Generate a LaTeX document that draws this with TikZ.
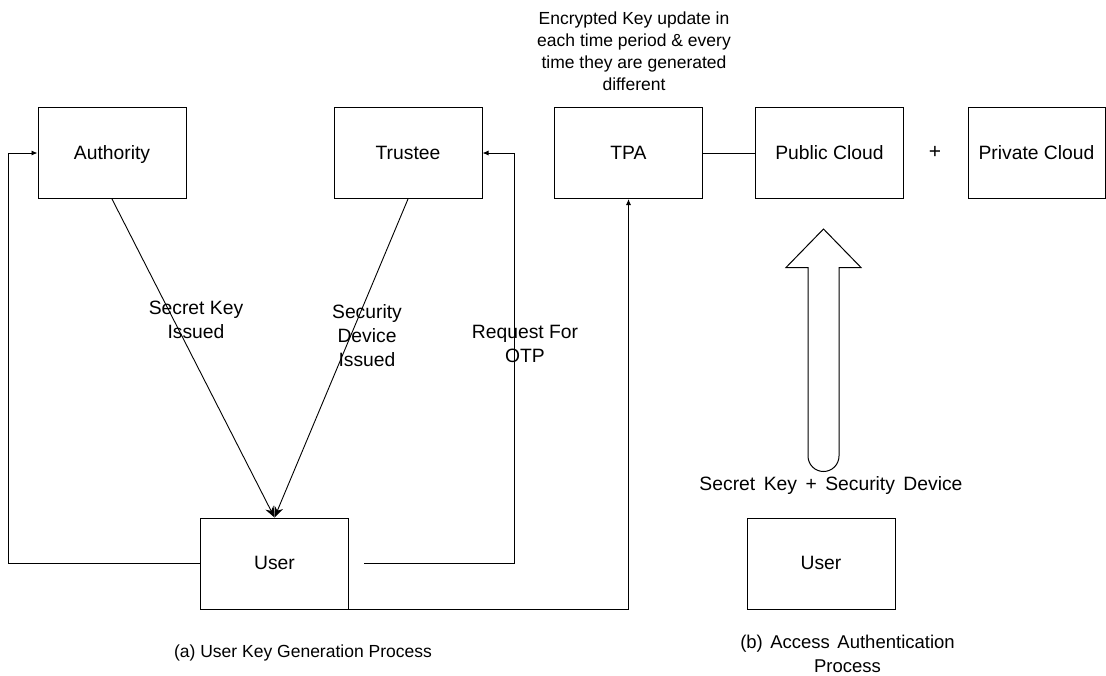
\documentclass[tikz,border=0pt]{standalone}
\usepackage{fontspec}
\setmainfont{Liberation Sans}
\usetikzlibrary{arrows.meta}
\begin{document}
\begin{tikzpicture}[x=1pt,y=-1pt,
  box/.style={draw, line width=1pt, minimum width=148pt, minimum height=91pt, inner sep=0pt, text height=14pt, text depth=2pt, font=\fontsize{19.3}{23}\selectfont},
  lbl/.style={align=center, font=\fontsize{19.3}{24}\selectfont, inner sep=0pt},
  captxt/.style={align=center, font=\fontsize{17.5}{22.5}\selectfont, inner sep=0pt},
  conn/.style={line width=0.9pt},
  sm/.style={-{Latex[length=6pt,width=5pt]}},
  bg/.style={-{Stealth[length=11pt,width=9pt]}}
]
\useasboundingbox (0,0) rectangle (1106,675);

% boxes
\node[box] (auth) at (112,153) {Authority};
\node[box] (trus) at (408,153) {Trustee};
\node[box] (tpa) at (628.5,153) {TPA};
\node[box] (pub) at (829.5,153) {Public Cloud};
\node[box, minimum width=137pt] (priv) at (1036.5,153) {Private Cloud};
\node[lbl, font=\fontsize{21}{24}\selectfont] (plus) at (935,152) {+};
\node[box] (user) at (274.5,563.5) {User};
\node[box] (user2) at (821,563.5) {User};

% texts
\node[captxt, font=\fontsize{17.5}{22}\selectfont] (enc) at (634,51) {Encrypted Key update in\\each time period \& every\\time they are generated\\different};
\node[lbl] (skl) at (196,320) {Secret Key\\Issued};
\node[lbl] (sdl) at (367,336) {Security\\Device\\Issued};
\node[lbl] (rql) at (525,344) {Request For\\OTP};
\node[lbl] (sksd) at (831,486) {\spaceskip=8.5pt\relax Secret Key + Security Device};
\node[captxt, font=\fontsize{18.5}{24}\selectfont] (capb) at (847.5,654) {\spaceskip=7.5pt\relax (b) Access Authentication\\Process};
\node[captxt] (capa) at (303,653) {(a) User Key Generation Process};

% connectors
\coordinate (lcorner) at (8,563.5);
\coordinate (rstart) at (364,563.5);
\draw[conn, sm] (user.west) -- (lcorner) |- (auth.west);
\draw[conn, sm] (rstart) -| (514,153) -- (trus.east);
\draw[conn, sm] (user.south) -| (tpa.south);
\draw[conn] (tpa.east) -- (pub.west);
\draw[conn, bg] (auth.south) -- (user.north);
\draw[conn, bg] (trus.south) -- (user.north);

% big hollow arrow
\draw[line width=1pt, fill=white, line join=miter]
  (823.5,229) -- (861,267.5) -- (839,267.5) -- (839,456)
  arc[start angle=0, end angle=-180, radius=15.5pt]
  -- (808,267.5) -- (786,267.5) -- cycle;
\end{tikzpicture}
\end{document}
